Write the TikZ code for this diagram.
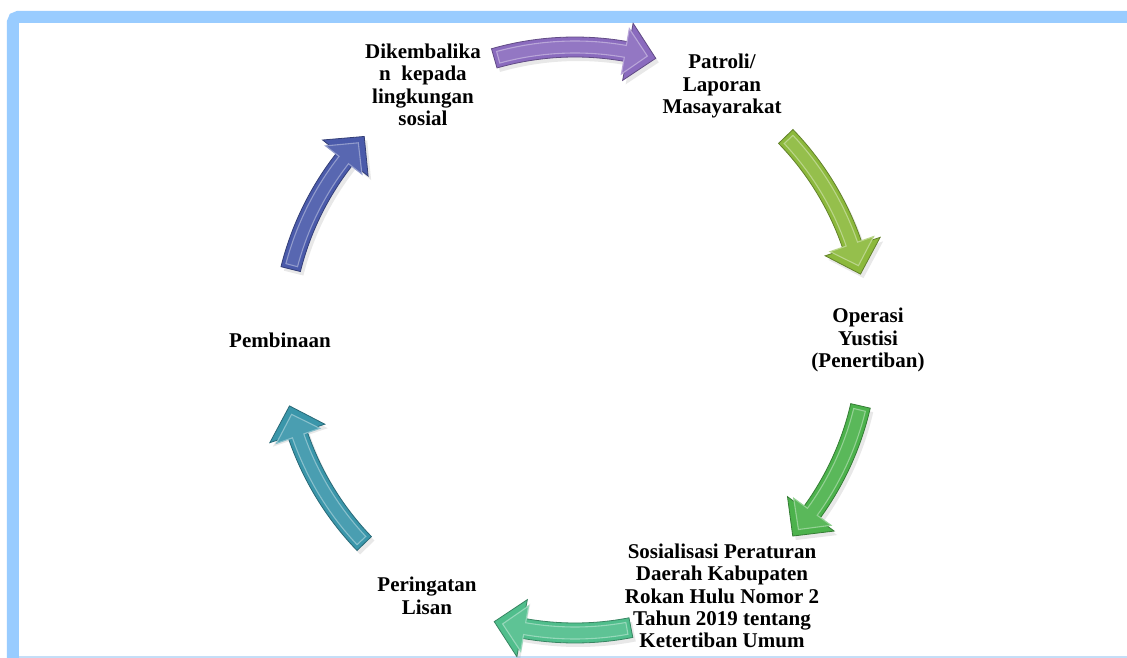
\documentclass[tikz,border=0pt]{standalone}
\usepackage{fontspec}
\setmainfont{Liberation Serif}
\usetikzlibrary{shadows}
\definecolor{framec}{HTML}{99CCFF}
\definecolor{framel}{HTML}{C4DEF7}
\definecolor{cpurple}{HTML}{8A6BBE}
\definecolor{cygreen}{HTML}{8CB93C}
\definecolor{cgreen}{HTML}{4CB24C}
\definecolor{cmint}{HTML}{50BE8C}
\definecolor{cteal}{HTML}{3A96AA}
\definecolor{cblue}{HTML}{4A5AAA}
\tikzset{
  lbl/.style={align=center, inner sep=0pt, font=\fontsize{21}{22.4}\selectfont\bfseries},
  framestyle/.style={draw=framec, line width=12},
}
% #1 colour, #2 tail angle, #3 tip angle (clockwise)
\newcommand\cycarrow[3]{%
  \pgfmathsetmacro\hb{#3+5.6}%
  \pgfmathsetmacro\ta{#2-0.8}%
  \pgfmathsetmacro\ti{#3+1.7}%
  \pgfmathsetmacro\hi{\hb+0.5}%
  \draw[fill=#1, draw=#1!70!black, line width=0.8,
        drop shadow={opacity=0.18, shadow xshift=3pt, shadow yshift=-4pt}]
    (#2:303) arc[start angle=#2, end angle=\hb, radius=303]
    -- (\hb:322) -- (#3:293) -- (\hb:264) -- (\hb:283)
    arc[start angle=\hb, end angle=#2, radius=283] -- cycle;
  \draw[draw=#1!60!white, line width=1.1, fill=#1!92!white]
    (\ta:299) arc[start angle=\ta, end angle=\hi, radius=299]
    -- (\hi:316) -- (\ti:293) -- (\hi:270) -- (\hi:287)
    arc[start angle=\hi, end angle=\ta, radius=287] -- cycle;
}
\begin{document}
\begin{tikzpicture}[x=1pt,y=1pt]
\useasboundingbox (-575,-318) rectangle (552,340);
\clip (-575,-318) rectangle (552,340);
\fill[white] (-575,-318) rectangle (552,340);
% frame
\draw[framestyle, rounded corners=5] (-562,-330) -- (-562,323) -- (570,323);
\draw[framel, line width=1.2] (-556,-317) -- (560,-317);
% arrows
\cycarrow{cpurple}{106}{74}
\cycarrow{cygreen}{44}{13}
\cycarrow{cgreen}{-13}{-42}
\cycarrow{cmint}{-79}{-106}
\cycarrow{cteal}{-136}{-167}
\cycarrow{cblue}{166}{136}
% labels
\node[lbl] (kembali) at (-152,255) {Dikembalika\\n~ kepada\\lingkungan\\sosial};
\node[lbl] (patroli) at (147,254) {Patroli/\\Laporan\\Masayarakat};
\node[lbl] (operasi) at (293,0) {Operasi\\Yustisi\\(Penertiban)};
\node[lbl] (sosial) at (147,-256) {Sosialisasi Peraturan\\Daerah Kabupaten\\Rokan Hulu Nomor 2\\Tahun 2019 tentang\\Ketertiban Umum};
\node[lbl] (lisan) at (-148,-256) {Peringatan\\Lisan};
\node[lbl] (bina) at (-295,0) {Pembinaan};
\end{tikzpicture}
\end{document}
